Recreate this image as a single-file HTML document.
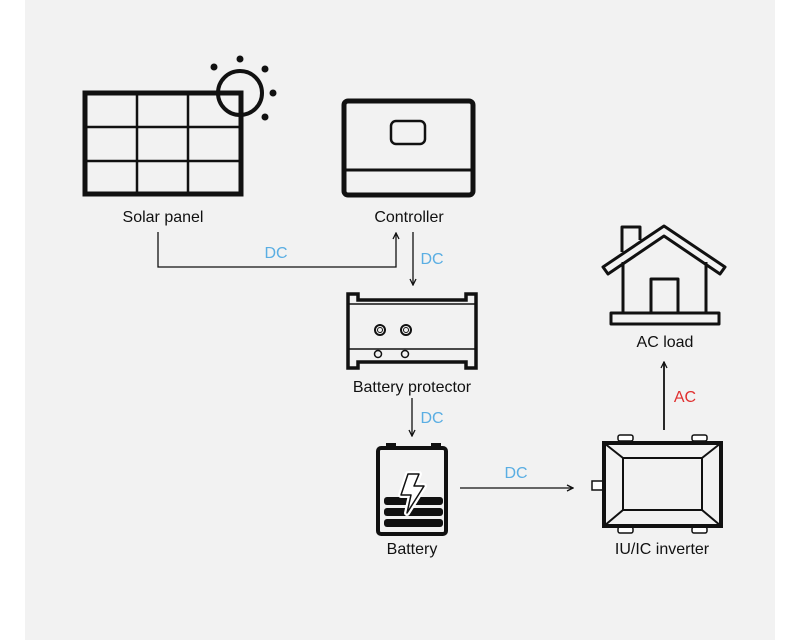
<!DOCTYPE html>
<html><head><style>
body{margin:0;width:800px;height:640px;background:#fff;overflow:hidden}
svg{display:block}
text{font-family:"Liberation Sans",sans-serif;font-size:16px;fill:#111}
</style></head><body>
<svg width="800" height="640" viewBox="0 0 800 640">
<rect x="25" y="0" width="750" height="640" fill="#f2f2f2"/>
<defs><marker id="a" markerWidth="8" markerHeight="8" refX="7" refY="4" orient="auto" markerUnits="userSpaceOnUse"><path d="M1,1 L7,4 L1,7" fill="none" stroke="#111" stroke-width="1.3"/></marker></defs>
<!-- solar panel -->
<g stroke="#111" fill="none">
<rect x="85" y="93" width="156" height="101" stroke-width="5"/>
<line x1="137" y1="93" x2="137" y2="194" stroke-width="2.5"/>
<line x1="188" y1="93" x2="188" y2="194" stroke-width="2.5"/>
<line x1="85" y1="127" x2="241" y2="127" stroke-width="2.5"/>
<line x1="85" y1="161" x2="241" y2="161" stroke-width="2.5"/>
<circle cx="240" cy="93" r="22" stroke-width="4"/>
</g>
<g fill="#111"><circle cx="240" cy="59" r="3.5"/><circle cx="214" cy="67" r="3.5"/><circle cx="265" cy="69" r="3.5"/><circle cx="273" cy="93" r="3.5"/><circle cx="265" cy="117" r="3.5"/></g>
<text x="163" y="222" text-anchor="middle">Solar panel</text>
<!-- controller -->
<g stroke="#111" fill="none">
<rect x="344" y="101" width="129" height="94" rx="4" stroke-width="5"/>
<line x1="344" y1="170" x2="473" y2="170" stroke-width="3"/>
<rect x="391" y="121" width="34" height="23" rx="5" stroke-width="2.5"/>
</g>
<text x="409" y="222" text-anchor="middle">Controller</text>
<!-- connectors -->
<g stroke="#111" stroke-width="1.3" fill="none">
<path d="M158,232 V267 H396 V233" marker-end="url(#a)"/>
<path d="M413,232 V285" marker-end="url(#a)"/>
<path d="M412,398 V436" marker-end="url(#a)"/>
<path d="M460,488 H573" marker-end="url(#a)"/>
<path d="M664,430 V362" marker-end="url(#a)" stroke-width="1.8"/>
</g>
<g style="font-size:16px"><text x="276" y="258" text-anchor="middle" style="fill:#5aaee3">DC</text>
<text x="432" y="264" text-anchor="middle" style="fill:#5aaee3">DC</text>
<text x="432" y="423" text-anchor="middle" style="fill:#5aaee3">DC</text>
<text x="516" y="478" text-anchor="middle" style="fill:#5aaee3">DC</text>
<text x="685" y="402" text-anchor="middle" style="fill:#e03030">AC</text></g>
<!-- battery protector -->
<g stroke="#111" fill="none">
<path d="M348,294 H358 V300 H466 V294 H476 V368 H466 V362 H358 V368 H348 Z" stroke-width="3.5"/>
<line x1="348" y1="304" x2="476" y2="304" stroke-width="1.5"/>
<line x1="348" y1="349" x2="476" y2="349" stroke-width="1.5"/>
<circle cx="380" cy="330" r="5" stroke-width="2"/><circle cx="380" cy="330" r="2.5" stroke-width="1"/>
<circle cx="406" cy="330" r="5" stroke-width="2"/><circle cx="406" cy="330" r="2.5" stroke-width="1"/>
<circle cx="378" cy="354" r="3.5" stroke-width="1.5"/><circle cx="405" cy="354" r="3.5" stroke-width="1.5"/>
</g>
<text x="412" y="392" text-anchor="middle">Battery protector</text>
<!-- battery -->
<g fill="#111">
<rect x="386" y="443" width="10" height="6"/><rect x="431" y="443" width="10" height="6"/>
<rect x="384" y="497" width="59" height="8" rx="3"/><rect x="384" y="508" width="59" height="8" rx="3"/><rect x="384" y="519" width="59" height="8" rx="3"/>
</g>
<rect x="378" y="448" width="68" height="86" rx="3" fill="none" stroke="#111" stroke-width="4"/>
<path d="M408,474 L419,474 L414,486 L424,486 L407,513 L411,495 L401,495 Z" fill="#fff" stroke="#fff" stroke-width="6" stroke-linejoin="round"/>
<path d="M408,474 L419,474 L414,486 L424,486 L407,513 L411,495 L401,495 Z" fill="#fff" stroke="#111" stroke-width="1.5" stroke-linejoin="round"/>
<text x="412" y="554" text-anchor="middle">Battery</text>
<!-- inverter -->
<g stroke="#111" fill="#fff" stroke-width="1.5">
<rect x="618" y="435" width="15" height="6" rx="2"/><rect x="692" y="435" width="15" height="6" rx="2"/>
<rect x="618" y="527" width="15" height="6" rx="2"/><rect x="692" y="527" width="15" height="6" rx="2"/>
<rect x="592" y="481" width="11" height="9"/>
</g>
<g stroke="#111" fill="none">
<rect x="604" y="443" width="117" height="83" stroke-width="4"/>
<rect x="623" y="458" width="79" height="52" stroke-width="2"/>
<path d="M604,443 L623,458 M721,443 L702,458 M604,526 L623,510 M721,526 L702,510" stroke-width="2"/>
</g>
<text x="662" y="554" text-anchor="middle">IU/IC inverter</text>
<!-- house -->
<g stroke="#111" fill="none" stroke-width="3" stroke-linejoin="round">
<path d="M622,252 V227 H640 V240"/>
<path d="M603,267 L664,226 L725,267 L720,274 L664,236 L608,274 Z"/>
<path d="M623,262 V313 M706,262 V313"/>
<rect x="651" y="279" width="27" height="34"/>
<rect x="611" y="313" width="108" height="11"/>
</g>
<text x="665" y="347" text-anchor="middle">AC load</text>
</svg>
</body></html>
